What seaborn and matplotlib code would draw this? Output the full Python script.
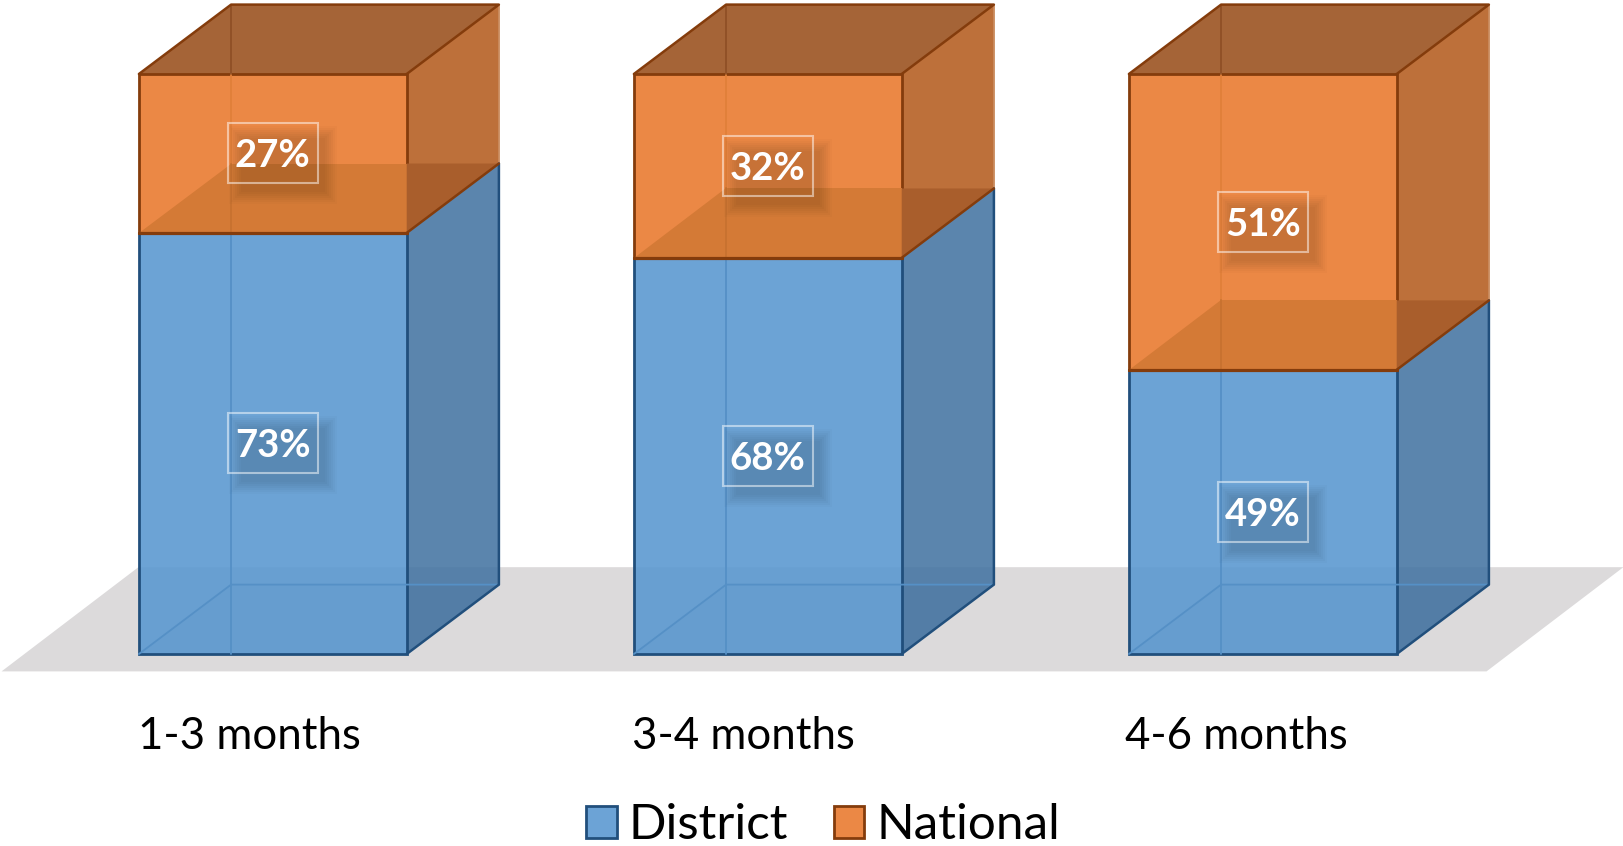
import matplotlib
matplotlib.use("Agg")
import matplotlib.pyplot as plt
from matplotlib.colors import to_rgba
from matplotlib.patches import Patch, Polygon, Rectangle
from matplotlib.transforms import ScaledTranslation
import pandas as pd
import seaborn as sns

categories = ["1-3 months", "3-4 months", "4-6 months"]
district = [72.6, 68.3, 49.0]
national = [27.4, 31.7, 51.0]
district_labels = ["73%", "68%", "49%"]
national_labels = ["27%", "32%", "51%"]

W, H = 1624, 846
AX_BOTTOM_PX = 690
BASE_PX, TOP_PX = 654.0, 74.0
FIRST_CENTER_PX, STEP_PX = 272.8, 495.0
PX_Y = (BASE_PX - TOP_PX) / 100
BAR_W = 0.541
DX, DY = 92.2 / STEP_PX, 69.4 / PX_Y
BOX_W, BOX_H = 90 / STEP_PX, 60 / PX_Y
TICK_DRIFT = 0.0035

BLUE, BLUE_SIDE = "#5897D0", "#4474A2"
BLUE_EDGE, BLUE_BACK = "#214F7C", "#5590C6"
ORANGE, ORANGE_SIDE, ORANGE_TOP = "#EB8845", "#BD703A", "#A56437"
ORANGE_FLOOR, ORANGE_FLOOR_SIDE = "#D47A36", "#A95E2C"
ORANGE_EDGE, ORANGE_BACK = "#843C0C", "#E08039"
FLOOR = "#DCDADB"

sns.set_theme(style="white")
plt.rcParams["font.family"] = ["Lato", "DejaVu Sans"]

fig = plt.figure(figsize=(W / 100, H / 100), dpi=100)
ax = fig.add_axes([0, 1 - AX_BOTTOM_PX / H, 1, AX_BOTTOM_PX / H])

df = pd.DataFrame({"period": categories, "District": district, "National": national})
sns.barplot(data=df, x="period", y="District", color=BLUE, saturation=1, width=BAR_W,
            linewidth=2, edgecolor=BLUE_EDGE, zorder=3, ax=ax)
n_blue = len(ax.patches)
sns.barplot(data=df, x="period", y="National", bottom=df["District"], color=ORANGE,
            saturation=1, width=BAR_W, linewidth=2, edgecolor=ORANGE_EDGE, zorder=3, ax=ax)
for p in ax.patches[:n_blue]:
    p.set_facecolor(to_rgba(BLUE, 0.88))

ax.set_xlim(-FIRST_CENTER_PX / STEP_PX, (W - FIRST_CENTER_PX) / STEP_PX)
ax.set_ylim((BASE_PX - AX_BOTTOM_PX) / PX_Y, 100 + TOP_PX / PX_Y)


def poly(points, color, alpha=1.0, z=2):
    ax.add_patch(Polygon(points, closed=True, facecolor=color, edgecolor="none", alpha=alpha, zorder=z))


def line(xs, ys, color, lw=1.5, z=5):
    ax.plot(xs, ys, color=color, lw=lw, zorder=z, solid_capstyle="round")


# floor
ax.add_patch(Polygon([(-0.548, -3.0), (2.452, -3.0), (2.7285, 14.97), (-0.2715, 14.97)],
                     closed=True, facecolor=FLOOR, edgecolor="none", zorder=1))

shadow_shift = ScaledTranslation(10 / 100, -12 / 100, fig.dpi_scale_trans)


def label(x, y, text):
    for grow, a in [(9, 0.015), (7, 0.02), (5, 0.025), (3, 0.025), (1, 0.025), (-1, 0.025), (-3, 0.02)]:
        gx, gy = grow / STEP_PX, grow / PX_Y
        ax.add_patch(Rectangle((x - BOX_W / 2 - gx, y - BOX_H / 2 - gy), BOX_W + 2 * gx, BOX_H + 2 * gy,
                               facecolor="black", edgecolor="none", alpha=a, zorder=6,
                               transform=ax.transData + shadow_shift))
    ax.add_patch(Rectangle((x - BOX_W / 2, y - BOX_H / 2), BOX_W, BOX_H, facecolor="none",
                           edgecolor=to_rgba("white", 0.5), lw=1.5, zorder=7))
    ax.text(x, y, text, color="white", fontsize=27.5, fontweight="bold", ha="center",
            va="center_baseline", zorder=8)


for i, (d, n) in enumerate(zip(district, national)):
    l, r = i - BAR_W / 2, i + BAR_W / 2
    bl, br = l + DX, r + DX
    t = d + n
    # district box
    poly([(r, 0), (br, DY), (br, d + DY), (r, d)], BLUE_SIDE, 0.88)
    poly([(l, 0), (r, 0), (r, DY), (bl, DY)], "#2F6DA8", 0.03, 4)
    poly([(r, 0), (br, DY), (r, DY)], "#1F4E79", 0.05, 4)
    line([bl, bl], [0, d], BLUE_BACK, 1.3, 4)
    line([l, bl, br], [0, DY, DY], BLUE_BACK, 1.3, 4)
    line([r, br, br], [0, DY, d + DY], BLUE_EDGE, 1.8)
    # national box
    poly([(r, d), (br, d + DY), (br, t + DY), (r, t)], ORANGE_SIDE)
    poly([(l, t), (r, t), (br, t + DY), (bl, t + DY)], ORANGE_TOP)
    poly([(r, t), (br, t + DY), (r, t + DY)], ORANGE_TOP, z=2)
    poly([(l, d), (r, d), (r, d + DY), (bl, d + DY)], ORANGE_FLOOR, z=4)
    poly([(r, d), (br, d + DY), (r, d + DY)], ORANGE_FLOOR_SIDE, z=4)
    line([bl, bl], [d + DY, t], ORANGE_BACK, 1.3, 4)
    line([bl, bl], [d, d + DY], "#C77230", 1.3, 4)
    line([bl, bl], [t, t + DY], "#8F5026", 1.3, 4)
    line([r, br], [d, d + DY], ORANGE_EDGE, 1.8)
    line([l, bl, br, r], [t, t + DY, t + DY, t], ORANGE_EDGE, 1.8)
    line([br, br], [d + DY, t + DY], "#C98A5C", 1.3, 4)
    line([l, r], [d, d], ORANGE_EDGE, 2.3, 5)
    label(i, d / 2, district_labels[i])
    label(i, d + n / 2, national_labels[i])

sns.despine(ax=ax, left=True, bottom=True, top=True, right=True)
ax.patch.set_alpha(0)
ax.set_xlabel("")
ax.set_ylabel("")
ax.set_yticks([])
ax.set_xticks([i - BAR_W / 2 - 0.001 - TICK_DRIFT * i for i in range(len(categories))])
ax.set_xticklabels(categories, ha="left", fontsize=31.5, color="black")
ax.tick_params(axis="x", length=0, pad=19)

handles = [Patch(facecolor="#6CA3D6", edgecolor=BLUE_EDGE, lw=2, label="District"),
           Patch(facecolor=ORANGE, edgecolor=ORANGE_EDGE, lw=2, label="National")]
fig.legend(handles=handles, loc="center", bbox_to_anchor=(823 / W, 1 - 825 / H), ncol=2, frameon=False,
           fontsize=35.6, handlelength=0.62, handleheight=0.62, handletextpad=0.24,
           columnspacing=0.92, borderpad=0, labelcolor="black")

fig.savefig("out.png", dpi=100)
